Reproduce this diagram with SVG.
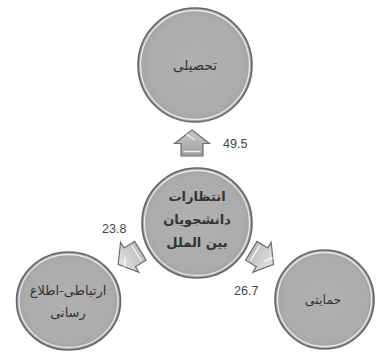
<svg xmlns="http://www.w3.org/2000/svg" width="379" height="352" viewBox="0 0 379 352">
<defs>
<radialGradient id="cg" cx="0.5" cy="0.5" r="0.5">
<stop offset="0" stop-color="#b0b0b0"/>
<stop offset="0.85" stop-color="#acacac"/>
<stop offset="1" stop-color="#a2a2a2"/>
</radialGradient>
<linearGradient id="ag" x1="0" y1="0" x2="0" y2="1">
<stop offset="0" stop-color="#e4e4e4"/>
<stop offset="1" stop-color="#bcbcbc"/>
</linearGradient>
<linearGradient id="ag2" x1="0" y1="0" x2="0" y2="1">
<stop offset="0" stop-color="#c8c8c8"/>
<stop offset="1" stop-color="#9e9e9e"/>
</linearGradient>
<path id="arr" d="M0,-13.5 L17.5,0 L11,0 L11,12.5 L-11,12.5 L-11,0 L-17.5,0 Z"/>
</defs>
<style>
.c{fill:url(#cg);stroke:#666;stroke-width:1.6}
.hl{fill:none;stroke:#fff;stroke-width:1.3;opacity:0.75}
.a{fill:url(#ag);stroke:#6e6e6e;stroke-width:1.2;stroke-linejoin:miter}
.a2{fill:url(#ag2);stroke:#6e6e6e;stroke-width:1.2;stroke-linejoin:miter}
.ah{fill:none;stroke:#fff;stroke-width:1.5;opacity:0.8;stroke-linecap:round}
.t{font-family:"DejaVu Sans",sans-serif;fill:#333;text-anchor:middle}
.n{font-family:"Liberation Sans",Arial,sans-serif;font-size:12.5px;fill:#444}
</style>
<rect width="379" height="352" fill="#fff"/>
<g id="connectors">
<g transform="translate(192,143.5)"><use href="#arr" class="a2"/><path class="ah" d="M-5,-9 L2,-4 M-8,8 L8,8"/></g>
<g transform="translate(129.7,257.3) rotate(-121.5)"><use href="#arr" class="a"/><path class="ah" d="M-5,-9 L2,-4 M-8,8 L8,8"/></g>
<g transform="translate(262,257.3) rotate(121.5)"><use href="#arr" class="a"/><path class="ah" d="M-5,-9 L2,-4 M-8,8 L8,8"/></g>
<text class="n" x="223" y="148">49.5</text>
<text class="n" x="102" y="233">23.8</text>
<text class="n" x="234" y="295">26.7</text>
</g>
<g id="node-top">
<circle class="c" cx="195" cy="65" r="57"/>
<circle class="hl" cx="195" cy="65" r="54.5"/>
<text class="t" x="195" y="70" font-size="13.5">تحصیلی</text>
</g>
<g id="node-center">
<circle class="c" cx="197" cy="223" r="55"/>
<circle class="hl" cx="197" cy="223" r="52.5"/>
<text class="t" x="197" y="201" font-size="13" font-weight="bold">انتظارات</text>
<text class="t" x="197" y="224" font-size="13" font-weight="bold">دانشجویان</text>
<text class="t" x="197" y="247" font-size="13" font-weight="bold">بین الملل</text>
</g>
<g id="node-left">
<ellipse class="c" cx="68.5" cy="301" rx="52" ry="49"/>
<ellipse class="hl" cx="68.5" cy="301" rx="49.5" ry="46.5"/>
<text class="t" x="68" y="295" font-size="13">ارتباطی-اطلاع</text>
<text class="t" x="68" y="317" font-size="13">رسانی</text>
</g>
<g id="node-right">
<circle class="c" cx="324.5" cy="299.5" r="49.5"/>
<circle class="hl" cx="324.5" cy="299.5" r="47"/>
<text class="t" x="323" y="304" font-size="12.5">حمایتی</text>
</g>
</svg>
